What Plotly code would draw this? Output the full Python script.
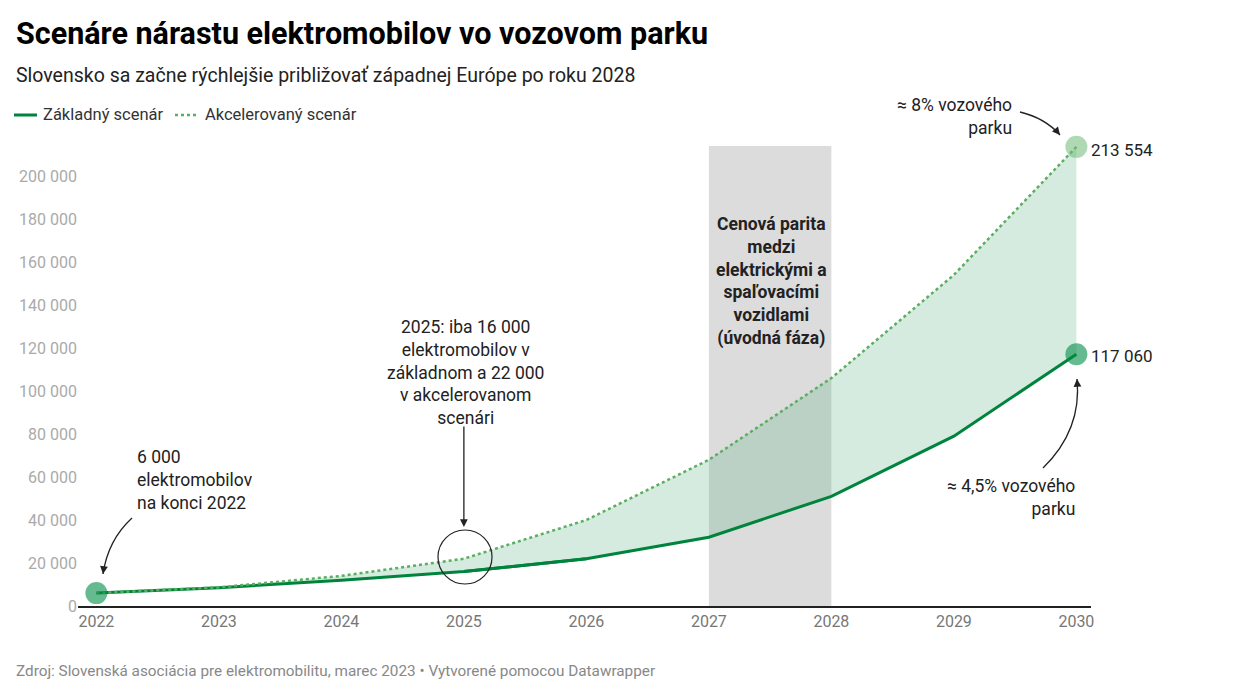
import plotly.graph_objects as go

years = [2022, 2023, 2024, 2025, 2026, 2027, 2028, 2029, 2030]
zakladny = [6000, 8500, 12000, 16000, 22000, 32000, 51000, 79000, 117060]
akcelerovany = [6000, 8700, 14000, 22000, 40000, 68000, 106000, 154000, 213554]
y_ticks = [0, 20000, 40000, 60000, 80000, 100000, 120000, 140000, 160000, 180000, 200000]
parity_start, parity_end, parity_top = 2027, 2028, 214000

FONT = "Roboto"
C_BASE = "#00843d"
C_ACC = "#5aae61"

# plot-area geometry (pixels)
L, R, T, B = 78, 1091, 144, 606
W, H = 1250, 695
X0, X1 = 2021.85, 2021.85 + (R - L) / 122.5
Y1 = (B - T) / 0.00215


def px(x):
    return (x - L) / (R - L)


def py(y):
    return (B - y) / (B - T)


def dx(x):
    return X0 + (x - L) / (R - L) * (X1 - X0)


def dy(y):
    return (B - y) / (B - T) * Y1


fig = go.Figure()

fig.add_trace(go.Scatter(x=years, y=zakladny, mode="lines",
                         line=dict(color=C_BASE, width=3), showlegend=False, hoverinfo="skip"))
fig.add_trace(go.Scatter(x=years, y=akcelerovany, mode="lines", fill="tonexty",
                         fillcolor="rgba(87,175,127,0.25)",
                         line=dict(color=C_ACC, width=2.5, dash="dot"), showlegend=False))
fig.add_trace(go.Scatter(x=years[3:5], y=zakladny[3:5], mode="lines",
                         line=dict(color=C_BASE, width=3), showlegend=False))
fig.add_trace(go.Scatter(x=[years[0], years[-1]], y=[zakladny[0], zakladny[-1]], mode="markers",
                         marker=dict(size=22, color="rgba(0,140,70,0.6)"), showlegend=False,
                         cliponaxis=False))
fig.add_trace(go.Scatter(x=[years[-1]], y=[akcelerovany[-1]], mode="markers",
                         marker=dict(size=22, color="rgba(110,185,115,0.55)"), showlegend=False,
                         cliponaxis=False))


def fmt(v):
    return f"{v:,}".replace(",", " ")


def curve(p0, c, p1):
    return dict(type="path", xref="paper", yref="paper",
                path=f"M {px(p0[0])},{py(p0[1])} Q {px(c[0])},{py(c[1])} {px(p1[0])},{py(p1[1])}",
                line=dict(color="#222", width=1.3))


shapes = [
    dict(type="rect", xref="x", yref="y", x0=parity_start, x1=parity_end, y0=0, y1=parity_top,
         fillcolor="#dcdcdc", line=dict(width=0), layer="below"),
    # circle around 2025
    dict(type="circle", xref="x", yref="y", x0=dx(438), x1=dx(492), y0=dy(584), y1=dy(530),
         line=dict(color="#222", width=1.2)),
    # curved arrows
    curve((132, 518), (108, 540), (103, 574)),
    curve((1043, 468), (1082, 430), (1077, 379)),
    curve((1020, 112), (1045, 118), (1060, 135)),
    # legend symbols
    dict(type="line", xref="paper", yref="paper", x0=px(14), x1=px(37), y0=py(115), y1=py(115),
         line=dict(color=C_BASE, width=3)),
    dict(type="line", xref="paper", yref="paper", x0=px(175), x1=px(197), y0=py(115), y1=py(115),
         line=dict(color=C_ACC, width=2.5, dash="dot")),
]

ann = []


def text(x, y, t, size=17.5, color="#222", xanchor="left", yanchor="middle", align="left", bold=False, font=FONT):
    ann.append(dict(xref="paper", yref="paper", x=px(x), y=py(y), text=(f"<b>{t}</b>" if bold else t),
                    showarrow=False, xanchor=xanchor, yanchor=yanchor, align=align,
                    font=dict(family=font, size=size, color=color)))


text(14, 33, "Scenáre nárastu elektromobilov vo vozovom parku", size=30.5, color="#000", bold=True)
text(14, 75, "Slovensko sa začne rýchlejšie približovať západnej Európe po roku 2028", size=19.5, color="#222")
text(41, 115, "Základný scenár", size=16.5, color="#333")
text(203, 115, "Akcelerovaný scenár", size=16.5, color="#333")
text(14, 671, "Zdroj: Slovenská asociácia pre elektromobilitu, marec 2023 • Vytvorené pomocou Datawrapper",
     size=15.3, color="#888")

text(135, 480, "6 000<br>elektromobilov<br>na konci 2022")
text(465, 372, "2025: iba 16 000<br>elektromobilov v<br>základnom a 22 000<br>v akcelerovanom<br>scenári",
     xanchor="center", align="center")
text(771, 281, "Cenová parita<br>medzi<br>elektrickými a<br>spaľovacími<br>vozidlami<br>(úvodná fáza)",
     xanchor="center", align="center", bold=True, color="#222")
text(1077, 497, "≈ 4,5% vozového<br>parku", xanchor="right", align="right")
text(1014, 117, "≈ 8% vozového<br>parku", xanchor="right", align="right")

for v, shift in ((akcelerovany[-1], -3), (zakladny[-1], -2)):
    ann.append(dict(x=years[-1], y=v, xref="x", yref="y", text=fmt(v), showarrow=False,
                    xanchor="left", xshift=13, yshift=shift, font=dict(family=FONT, size=17, color="#222")))

# arrowheads / straight arrow
ann.append(dict(x=years[3], y=dy(527), xref="x", yref="y", ax=0, ay=-102, axref="pixel", ayref="pixel",
                text="", showarrow=True, arrowhead=2, arrowsize=1.2, arrowwidth=1.3, arrowcolor="#222"))
for tip, tail in [((103, 574), (104, 566)), ((1077, 379), (1077.5, 387)), ((1060, 135), (1055, 129))]:
    ann.append(dict(x=px(tip[0]), y=py(tip[1]), xref="paper", yref="paper",
                    ax=tail[0] - tip[0], ay=tail[1] - tip[1], axref="pixel", ayref="pixel",
                    text="", showarrow=True, arrowhead=2, arrowsize=1.2, arrowwidth=1.3,
                    arrowcolor="#222"))

fig.update_layout(
    width=W, height=H,
    margin=dict(l=L, r=W - R, t=T, b=H - B),
    paper_bgcolor="white", plot_bgcolor="white",
    separators=", ",
    showlegend=False,
    shapes=shapes, annotations=ann,
    font=dict(family=FONT),
    hovermode=False,
)
fig.update_xaxes(range=[X0, X1], tickvals=years, ticktext=[str(y) for y in years],
                 showgrid=False, zeroline=False, showline=True, linecolor="#222", linewidth=1.5,
                 ticks="", tickfont=dict(family=FONT, size=16, color="#777"))
fig.update_yaxes(range=[0, Y1], tickvals=y_ticks, tickformat=",d", showgrid=False, zeroline=False,
                 showline=False, ticks="", tickfont=dict(family=FONT, size=16, color="#aaa"))

fig.write_html("out.html")
